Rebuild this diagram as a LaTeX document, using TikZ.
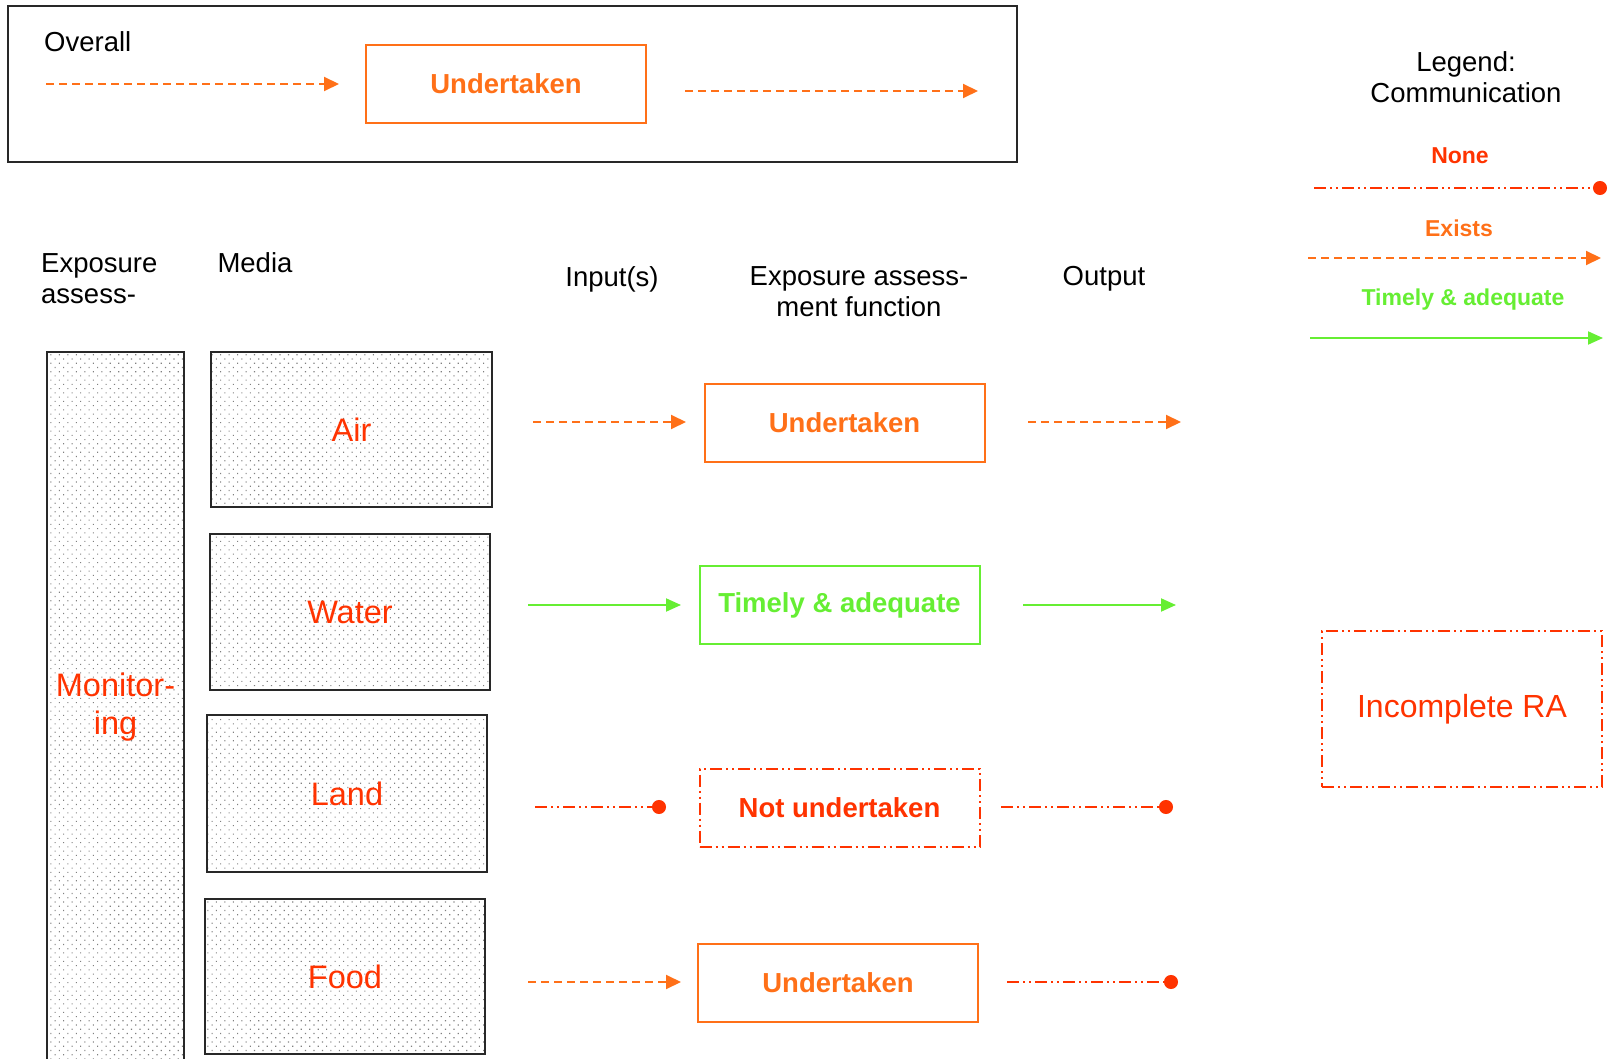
\documentclass[tikz,border=0pt]{standalone}
\usepackage{fontspec}
\setmainfont{Liberation Sans}
\usetikzlibrary{arrows.meta,patterns.meta}

\definecolor{exorange}{RGB}{255,112,24}
\definecolor{nonered}{RGB}{255,51,0}
\definecolor{okgreen}{RGB}{102,238,51}
\definecolor{frameink}{RGB}{40,40,40}

\tikzset{
  hdr/.style={font=\fontsize{27.5}{31}\selectfont, inner sep=0pt},
  legtxt/.style={font=\fontsize{23}{26}\selectfont\bfseries, inner sep=0pt},
  dotted fill/.style={pattern={Dots[distance=6pt,angle=45,radius=0.8pt]}, pattern color=black!50},
  mediabox/.style={draw=frameink, line width=2pt, dotted fill, inner sep=0pt,
    minimum width=280pt, minimum height=156pt, text=nonered,
    font=\fontsize{32.5}{38}\selectfont},
  fnbox/.style={line width=2pt, inner sep=0pt, minimum width=280pt, minimum height=78pt,
    font=\fontsize{27.5}{31}\selectfont\bfseries},
  undertaken/.style={fnbox, draw=exorange, text=exorange},
  timelybox/.style={fnbox, draw=okgreen, text=okgreen},
  nonedash/.style={dash pattern=on 12pt off 4pt on 2pt off 4pt on 2pt off 4pt},
  notundertaken/.style={fnbox, draw=nonered, text=nonered, nonedash},
  exists/.style={exorange, line width=2pt, dash pattern=on 8pt off 5pt,
    -{Triangle[length=15pt,width=14pt]}},
  timely/.style={okgreen, line width=2pt, -{Triangle[length=15pt,width=13pt]}},
  nocomm/.style={nonered, line width=2pt, nonedash, -{Circle[length=14pt]}},
}

\begin{document}
\begin{tikzpicture}[x=1pt,y=-1pt]
\useasboundingbox (0,0) rectangle (1607,1059);

% ---- Overall panel ----
\node[draw=frameink, line width=1.6pt, minimum width=1009pt, minimum height=156pt, inner sep=0pt]
  (frame) at (512.5,84) {};
\node[hdr, anchor=west] (overall) at (44,42) {Overall};
\node[undertaken] (ovfn) at (506,84) {Undertaken};
\coordinate (ovin0) at (46,84);   \coordinate (ovin1) at (339,84);
\coordinate (ovout0) at (685,91); \coordinate (ovout1) at (978,91);
\draw[exists] (ovin0) -- (ovin1);
\draw[exists] (ovout0) -- (ovout1);

% ---- Legend ----
\node[hdr, align=center] (legend) at (1466,77) {Legend:\\Communication};
\node[legtxt, text=nonered] (lnone) at (1460,156) {None};
\node[legtxt, text=exorange] (lexists) at (1459,228) {Exists};
\node[legtxt, text=okgreen] (ltimely) at (1463,300) {Timely \& adequate};
\coordinate (ln0) at (1314,188); \coordinate (ln1) at (1607,188);
\coordinate (le0) at (1308,258); \coordinate (le1) at (1601,258);
\coordinate (lt0) at (1310,338); \coordinate (lt1) at (1603,338);
\draw[nocomm] (ln0) -- (ln1);
\draw[exists] (le0) -- (le1);
\draw[timely] (lt0) -- (lt1);

% ---- Column headings ----
\node[hdr, anchor=west, align=left] (hexp) at (41,278.5) {Exposure\\assess-};
\node[hdr] (hmedia) at (255,263) {Media};
\node[hdr] (hinput) at (612,279) {Input(s)};
\node[hdr, align=center] (hfunc) at (859,292) {Exposure assess-\\ment function};
\node[hdr] (houtput) at (1104,279) {Output};

% ---- Monitoring column ----
\node[draw=frameink, line width=2pt, dotted fill, minimum width=137pt, minimum height=710pt,
  inner sep=0pt, text=nonered, align=center, font=\fontsize{32.5}{38}\selectfont]
  (monitor) at (115.5,707) {Monitor-\\ing};

% ---- Media ----
\node[mediabox, minimum width=281pt, minimum height=155pt] (air) at (351.5,429.5) {Air};
\node[mediabox] (water) at (350,612) {Water};
\node[mediabox, minimum height=157pt] (land) at (347,793.5) {Land};
\node[mediabox, minimum height=155pt] (food) at (345,976.5) {Food};

% ---- Assessment functions ----
\node[undertaken] (airfn) at (844.5,423) {Undertaken};
\node[timelybox] (waterfn) at (839.5,605) {Timely \& adequate};
\node[notundertaken] (landfn) at (839.5,807.5) {Not undertaken};
\node[undertaken] (foodfn) at (838,983) {Undertaken};

% ---- Inputs and outputs ----
\coordinate (airin0) at (533,422);  \coordinate (airin1) at (686,422);
\coordinate (airout0) at (1028,422); \coordinate (airout1) at (1181,422);
\draw[exists] (airin0) -- (airin1);
\draw[exists] (airout0) -- (airout1);

\coordinate (waterin0) at (528,605);  \coordinate (waterin1) at (681,605);
\coordinate (waterout0) at (1023,605); \coordinate (waterout1) at (1176,605);
\draw[timely] (waterin0) -- (waterin1);
\draw[timely] (waterout0) -- (waterout1);

\coordinate (landin0) at (535,807);  \coordinate (landin1) at (666,807);
\coordinate (landout0) at (1001,807); \coordinate (landout1) at (1173,807);
\draw[nocomm] (landin0) -- (landin1);
\draw[nocomm] (landout0) -- (landout1);

\coordinate (foodin0) at (528,982);  \coordinate (foodin1) at (681,982);
\coordinate (foodout0) at (1007,982); \coordinate (foodout1) at (1178,982);
\draw[exists] (foodin0) -- (foodin1);
\draw[nocomm] (foodout0) -- (foodout1);

% ---- Result ----
\node[draw=nonered, nonedash, line width=2pt, minimum width=280pt, minimum height=156pt,
  inner sep=0pt, text=nonered, font=\fontsize{32}{38}\selectfont] (result) at (1462,709) {Incomplete RA};
\end{tikzpicture}
\end{document}
